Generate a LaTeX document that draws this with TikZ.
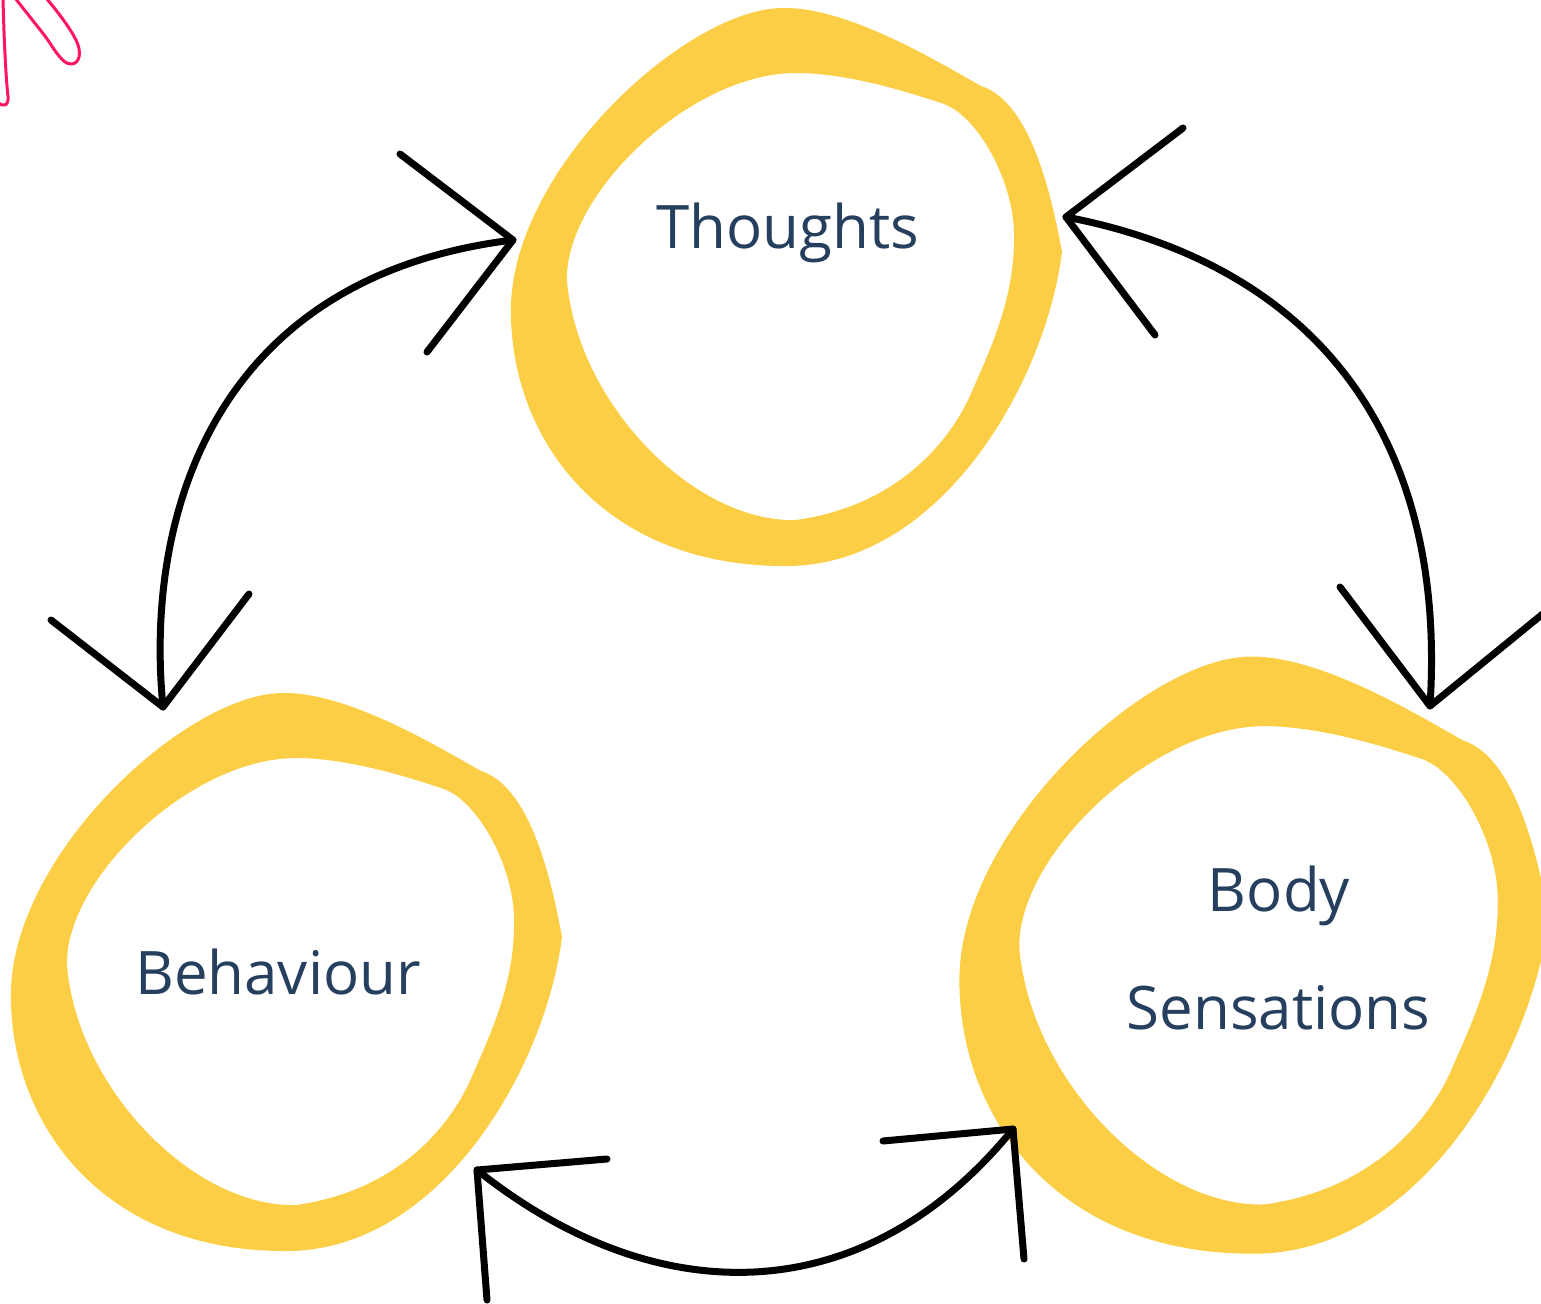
\documentclass[tikz,border=0pt]{standalone}
\usepackage{fontspec}
\setmainfont{Open Sans}
\definecolor{ringyellow}{HTML}{FCCE46}
\definecolor{labelblue}{HTML}{263F5E}
\definecolor{scribblepink}{HTML}{FF1560}

% One hand-drawn ring, centred on the local origin (y grows downwards)
\newcommand\ringshape{%
  \fill[ring]
    % outer edge, with its small point on the right
    (272,-33) .. controls (258,-110) and (235,-185) .. (191,-199)
      .. controls (150,-222) and (60,-277) .. (-5,-277)
      .. controls (-100,-279) and (-275,-120) .. (-279,20)
      .. controls (-282,150) and (-190,283) .. (-1,281)
      .. controls (150,279) and (255,100) .. (272,-33) -- cycle
    % inner edge
    (6,-212) .. controls (60,-212) and (124,-191) .. (154,-181)
      .. controls (189,-168) and (226,-100) .. (224,-45)
      .. controls (224,20) and (195,75) .. (180,111)
      .. controls (155,165) and (100,222) .. (6,235)
      .. controls (-95,238) and (-212,120) .. (-223,-4)
      .. controls (-226,-90) and (-100,-212) .. (6,-212) -- cycle;
}

\begin{document}
\begin{tikzpicture}[x=1pt, y=-1pt,
  ring/.style={fill=ringyellow, even odd rule},
  blobtext/.style={text=labelblue, inner sep=0pt, anchor=base,
                   font=\fontsize{60}{72}\selectfont},
  arrowline/.style={draw=black, line width=7pt, line cap=round, line join=round},
  scribble/.style={draw=scribblepink, line width=3pt, line cap=round, line join=round}]

\useasboundingbox (0,0) rectangle (1541,1303);
\clip (0,0) rectangle (1541,1303);

% rings
\begin{scope}[shift={(790,285)}]
  \ringshape
\end{scope}
\begin{scope}[shift={(290,970)}]
  \ringshape
\end{scope}
\begin{scope}[shift={(1258,953)}, scale=1.07]
  \ringshape
\end{scope}

% labels
\node[blobtext] (thoughts) at (788,248.5) {Thoughts};
\node[blobtext] (behaviour) at (278,994) {Behaviour};
\node[blobtext] (body) at (1279,911) {Body};
\node[blobtext] (sensations) at (1278.5,1029) {Sensations};

% arrow tips and head arms
\coordinate (tb-t) at (513,240);
\coordinate (tb-b) at (163,707);
\coordinate (tb-t1) at (400,154);
\coordinate (tb-t2) at (427,352);
\coordinate (tb-b1) at (51,620);
\coordinate (tb-b2) at (249,594);

\coordinate (ts-t) at (1066,217);
\coordinate (ts-s) at (1430,706);
\coordinate (ts-t1) at (1183,128);
\coordinate (ts-t2) at (1155,335);
\coordinate (ts-s1) at (1340,587);
\coordinate (ts-s2) at (1550,608);

\coordinate (bs-b) at (477,1170);
\coordinate (bs-s) at (1013,1129);
\coordinate (bs-b1) at (607,1159);
\coordinate (bs-b2) at (487,1300);
\coordinate (bs-s1) at (883,1141);
\coordinate (bs-s2) at (1024,1259);

% Thoughts <-> Behaviour
\draw[arrowline] (tb-t) .. controls (206,278) and (145,526) .. (tb-b);
\draw[arrowline] (tb-t1) -- (tb-t) -- (tb-t2);
\draw[arrowline] (tb-b1) -- (tb-b) -- (tb-b2);

% Thoughts <-> Body Sensations
\draw[arrowline] (ts-t) .. controls (1321,266) and (1447,442) .. (ts-s);
\draw[arrowline] (ts-t1) -- (ts-t) -- (ts-t2);
\draw[arrowline] (ts-s1) -- (ts-s) -- (ts-s2);

% Behaviour <-> Body Sensations
\draw[arrowline] (bs-b) .. controls (659,1315) and (866,1310) .. (bs-s);
\draw[arrowline] (bs-b1) -- (bs-b) -- (bs-b2);
\draw[arrowline] (bs-s1) -- (bs-s) -- (bs-s2);

% pen scribble in the corner
\draw[scribble] (15,-2) -- (45,36) .. controls (55,50) and (62,64) .. (71,64)
  .. controls (80,64) and (82,52) .. (76,40) .. controls (70,28) and (58,12) .. (46,-2);
\draw[scribble] (3,-2) .. controls (4,40) and (6,80) .. (8,96)
  .. controls (9,106) and (3,108) .. (-2,102);

\end{tikzpicture}
\end{document}
